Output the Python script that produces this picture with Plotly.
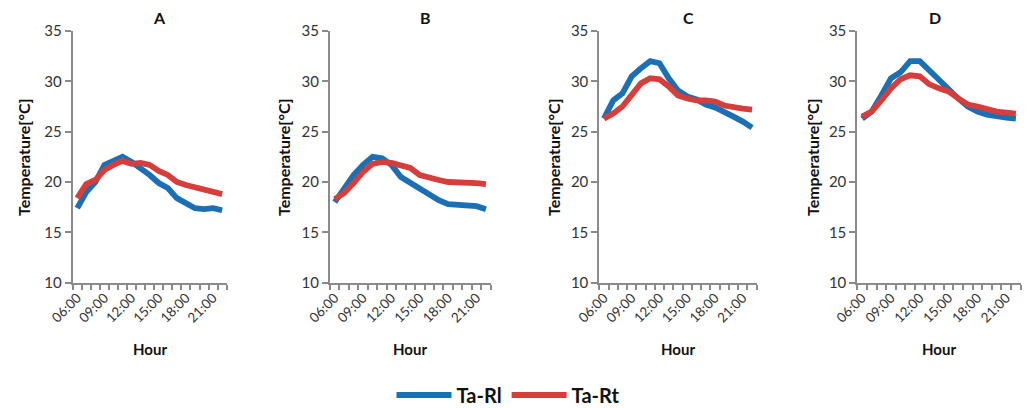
import plotly.graph_objects as go

# Hourly air temperature, 06:00 - 22:00
hours = ["06:00", "07:00", "08:00", "09:00", "10:00", "11:00", "12:00", "13:00", "14:00",
         "15:00", "16:00", "17:00", "18:00", "19:00", "20:00", "21:00", "22:00"]

panels = ["A", "B", "C", "D"]

ta_rl_a = [17.4, 19.0, 20.0, 21.7, 22.1, 22.5, 22.0, 21.4, 20.7, 19.9, 19.4, 18.4, 17.9, 17.4, 17.3, 17.4, 17.2]
ta_rt_a = [18.4, 19.8, 20.2, 21.2, 21.7, 22.1, 21.8, 21.9, 21.7, 21.1, 20.7, 20.0, 19.7, 19.5, 19.2, 19.0, 18.8]

ta_rl_b = [18.0, 19.4, 20.7, 21.7, 22.5, 22.35, 21.7, 20.5, 19.9, 19.3, 18.7, 18.2, 17.8, 17.7, 17.7, 17.6, 17.3]
ta_rt_b = [18.3, 18.9, 19.9, 21.0, 21.8, 22.0, 21.9, 21.7, 21.4, 20.7, 20.4, 20.2, 20.0, 20.0, 19.9, 19.9, 19.8]

ta_rl_c = [26.3, 28.1, 28.8, 30.5, 31.3, 32.0, 31.8, 30.3, 29.1, 28.5, 28.2, 27.7, 27.4, 27.0, 26.5, 26.0, 25.4]
ta_rt_c = [26.3, 26.8, 27.5, 28.6, 29.8, 30.3, 30.2, 29.5, 28.6, 28.3, 28.1, 28.1, 28.0, 27.6, 27.4, 27.3, 27.2]

ta_rl_d = [26.3, 27.0, 28.6, 30.3, 30.9, 32.0, 32.0, 31.1, 30.1, 29.1, 28.3, 27.5, 27.0, 26.7, 26.5, 26.4, 26.3]
ta_rt_d = [26.5, 27.0, 28.1, 29.3, 30.2, 30.6, 30.5, 29.7, 29.3, 29.0, 28.3, 27.7, 27.5, 27.2, 27.0, 26.9, 26.8]

series_rl = [ta_rl_a, ta_rl_b, ta_rl_c, ta_rl_d]
series_rt = [ta_rt_a, ta_rt_b, ta_rt_c, ta_rt_d]

y_ticks = [10, 15, 20, 25, 30, 35]

W, H = 1030, 408
FONT = "Lato, 'Open Sans', Arial, sans-serif"
BLUE = "#1b6fb5"
RED = "#d63e3c"
AXIS = "#8a8a8a"
TEXT = "#333333"

# plot-area pixel boxes (left, right) and shared vertical extent
x_boxes = [(72.7, 226.7), (330.0, 490.7), (599.3, 756.7), (857.3, 1020.7)]
y_top, y_bot = 31.0, 282.7
title_x = [159.5, 425.0, 688.0, 935.0]
ylabel_x = [23.0, 283.0, 553.0, 812.0]

idx = list(range(len(hours)))
lab_pos = idx[::3]
lab_txt = hours[::3]
# tick marks sit on category boundaries
bounds = [i - 0.5 for i in range(len(hours) + 1)]

fig = go.Figure()
annotations = []
for k, name in enumerate(panels):
    xa = "x" if k == 0 else f"x{k + 1}"
    ya = "y" if k == 0 else f"y{k + 1}"
    fig.add_trace(go.Scatter(x=idx, y=series_rl[k], mode="lines", name="Ta-Rl",
                             line=dict(color=BLUE, width=5.8),
                             xaxis=xa, yaxis=ya, showlegend=(k == 0)))
    fig.add_trace(go.Scatter(x=idx, y=series_rt[k], mode="lines", name="Ta-Rt",
                             line=dict(color=RED, width=5.8),
                             xaxis=xa, yaxis=ya, showlegend=(k == 0)))

    l, r = x_boxes[k]
    xkey = "xaxis" if k == 0 else f"xaxis{k + 1}"
    ykey = "yaxis" if k == 0 else f"yaxis{k + 1}"
    fig.layout[xkey] = dict(
        domain=[l / W, r / W], anchor=ya, range=[-0.5, len(hours) - 0.5],
        automargin=False,
        tickmode="array", tickvals=lab_pos, ticktext=lab_txt, tickangle=-45,
        ticks="outside", ticklen=0, tickcolor=AXIS,
        minor=dict(tickmode="array", tickvals=bounds, ticks="outside", ticklen=5,
                   tickcolor=AXIS, tickwidth=1.5, showgrid=False),
        showline=True, linecolor=AXIS, linewidth=2, showgrid=False, zeroline=False,
        tickfont=dict(family=FONT, size=13.5, color=TEXT), fixedrange=True,
    )
    fig.layout[ykey] = dict(
        domain=[1 - y_bot / H, 1 - y_top / H], anchor=xa, range=[10, 35],
        automargin=False,
        tickmode="array", tickvals=y_ticks, ticks="outside", ticklen=6,
        tickcolor=AXIS, tickwidth=1.5, showline=True, linecolor=AXIS, linewidth=2,
        showgrid=False, zeroline=False,
        tickfont=dict(family=FONT, size=15, color=TEXT), fixedrange=True,
    )

    annotations.append(dict(text=f"<b>{name}</b>", x=title_x[k] / W, y=1 - 18 / H,
                            xref="paper", yref="paper", showarrow=False,
                            font=dict(family=FONT, size=16, color="#111111"),
                            xanchor="center", yanchor="middle"))
    annotations.append(dict(text="<b>Hour</b>", x=(l + r) / 2 / W, y=1 - 349 / H,
                            xref="paper", yref="paper", showarrow=False,
                            font=dict(family=FONT, size=15, color="#111111"),
                            xanchor="center", yanchor="middle"))
    annotations.append(dict(text="<b>Temperature[°C]</b>", x=ylabel_x[k] / W, y=1 - 157 / H,
                            xref="paper", yref="paper", showarrow=False, textangle=-90,
                            font=dict(family=FONT, size=16, color="#111111"),
                            xanchor="center", yanchor="middle"))

fig.update_layout(
    width=W, height=H,
    margin=dict(l=0, r=0, t=0, b=0, autoexpand=False),
    paper_bgcolor="white", plot_bgcolor="white",
    annotations=annotations,
    showlegend=True,
    legend=dict(orientation="h", x=0.5 - 7 / W, xanchor="center", y=1 - 395 / H, yanchor="middle",
                font=dict(family=FONT, size=20, color="#111111", weight="bold"),
                itemwidth=55, tracegroupgap=0, bgcolor="rgba(0,0,0,0)"),
)

fig.write_html("out.html")
